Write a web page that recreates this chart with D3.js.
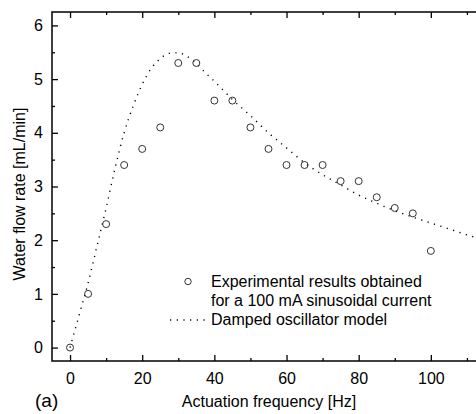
<!DOCTYPE html>
<html>
<head>
<meta charset="utf-8">
<script src="https://cdn.jsdelivr.net/npm/d3@7"></script>
<style>
  html, body { margin: 0; padding: 0; background: #fff; }
  svg { display: block; overflow: hidden; }
  text { font-family: "Liberation Sans", Arial, sans-serif; fill: #000; }
</style>
</head>
<body>
<div class="chart"></div>
<script>
// measured points (Hz -> mL/min)
const freqs = [0, 5, 10, 15, 20, 25, 30, 35, 40, 45, 50, 55, 60, 65, 70, 75, 80, 85, 90, 95, 100];
const flowRates = [0, 1.0, 2.3, 3.4, 3.7, 4.1, 5.3, 5.3, 4.6, 4.6, 4.1, 3.7, 3.4, 3.4, 3.4, 3.1, 3.1, 2.8, 2.6, 2.5, 1.8];

// damped oscillator model
const modelFreqs = [0, 2.5, 5, 7.5, 10, 12.5, 15, 17.5, 20, 22.5, 25, 27.5, 30, 32.5, 35, 37.5, 40, 45, 50, 55, 60, 65, 70, 75, 80, 85, 90, 95, 100, 105, 110, 115, 120];
const modelRates = [0, 0.6, 1.2, 1.9, 2.6, 3.35, 4.0, 4.5, 4.9, 5.2, 5.38, 5.48, 5.49, 5.42, 5.29, 5.12, 4.96, 4.62, 4.32, 4.0, 3.72, 3.44, 3.22, 3.03, 2.84, 2.69, 2.55, 2.43, 2.32, 2.21, 2.1, 2.0, 1.9];

const xTicks = [0, 20, 40, 60, 80, 100];
const yTicks = [0, 1, 2, 3, 4, 5, 6];

const W = 476, H = 414;
const margin = { top: 12, left: 52, bottom: 53 };
const plotRight = 503;

const svg = d3.select(".chart").append("svg")
  .attr("width", W)
  .attr("height", H);

const x = d3.scaleLinear().domain([-5, 120]).range([margin.left, plotRight]);
const y = d3.scaleLinear().domain([-0.25, 6.25]).range([H - margin.bottom, margin.top]);

// frame
svg.append("rect")
  .attr("x", margin.left)
  .attr("y", margin.top)
  .attr("width", plotRight - margin.left)
  .attr("height", H - margin.bottom - margin.top)
  .attr("fill", "none")
  .attr("stroke", "#000")
  .attr("stroke-width", 1.5);

const xMinor = d3.range(10, 111, 20);
const yMinor = d3.range(0.5, 6.1, 1);

// bottom axis, ticks inward
const bottomAxis = svg.append("g").attr("transform", `translate(0,${H - margin.bottom})`);
bottomAxis.call(d3.axisBottom(x).tickValues(xTicks).tickSize(-6).tickPadding(12).tickFormat(d3.format("d")));
bottomAxis.append("g").call(d3.axisBottom(x).tickValues(xMinor).tickSize(-3).tickFormat(""));

// top axis
const topAxis = svg.append("g").attr("transform", `translate(0,${margin.top})`);
topAxis.call(d3.axisTop(x).tickValues(xTicks).tickSize(-6).tickFormat(""));
topAxis.append("g").call(d3.axisTop(x).tickValues(xMinor).tickSize(-3).tickFormat(""));

// left axis
const leftAxis = svg.append("g").attr("transform", `translate(${margin.left},0)`);
leftAxis.call(d3.axisLeft(y).tickValues(yTicks).tickSize(-6).tickPadding(9).tickFormat(d3.format("d")));
leftAxis.append("g").call(d3.axisLeft(y).tickValues(yMinor).tickSize(-3).tickFormat(""));

svg.selectAll(".domain").remove();
svg.selectAll(".tick line").attr("stroke", "#000").attr("stroke-width", 1.3);
svg.selectAll(".tick text")
  .style("font-family", "'Liberation Sans', Arial, sans-serif")
  .style("font-size", "16px")
  .attr("fill", "#000");

// model curve
const line = d3.line()
  .curve(d3.curveMonotoneX)
  .x((d, i) => x(modelFreqs[i]))
  .y(d => y(d));

svg.append("path")
  .datum(modelRates)
  .attr("fill", "none")
  .attr("stroke", "#000")
  .attr("stroke-width", 1.4)
  .attr("stroke-dasharray", "1.2,5.5")
  .attr("d", line);

// experimental points
svg.append("g").selectAll("circle")
  .data(flowRates)
  .join("circle")
  .attr("cx", (d, i) => x(freqs[i]))
  .attr("cy", d => y(d))
  .attr("r", 3.5)
  .attr("fill", "none")
  .attr("stroke", "#333")
  .attr("stroke-width", 1);

// legend
const lg = svg.append("g");
lg.append("circle").attr("cx", 188).attr("cy", 281.5).attr("r", 3.2)
  .attr("fill", "none").attr("stroke", "#333").attr("stroke-width", 1);
lg.append("text").attr("x", 211).attr("y", 287).style("font-size", "16px").text("Experimental results obtained");
lg.append("text").attr("x", 211).attr("y", 306).style("font-size", "16px").text("for a 100 mA sinusoidal current");
lg.append("line").attr("x1", 170).attr("x2", 208).attr("y1", 320).attr("y2", 320)
  .attr("stroke", "#000").attr("stroke-width", 1.4).attr("stroke-dasharray", "1.2,5.5");
lg.append("text").attr("x", 211).attr("y", 325).style("font-size", "16px").text("Damped oscillator model");

// axis labels
svg.append("text")
  .attr("x", 269)
  .attr("y", 407)
  .attr("text-anchor", "middle")
  .style("font-size", "16px")
  .text("Actuation frequency [Hz]");

svg.append("text")
  .attr("transform", "rotate(-90)")
  .attr("x", -194)
  .attr("y", 25)
  .attr("text-anchor", "middle")
  .style("font-size", "16px")
  .text("Water flow rate [mL/min]");

svg.append("text")
  .attr("x", 35)
  .attr("y", 407)
  .style("font-size", "19px")
  .text("(a)");
</script>
</body>
</html>
